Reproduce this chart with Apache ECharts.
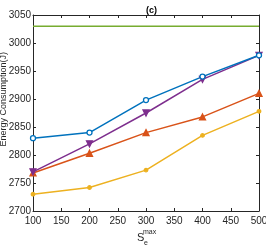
<!DOCTYPE html>
<html><head><meta charset="utf-8">
<script src="https://cdn.jsdelivr.net/npm/echarts@6/dist/echarts.min.js"></script>
<style>html,body{margin:0;padding:0;background:#fff}#c{width:266px;height:249px}</style>
</head><body><div id="c"></div>
<script>
var xValues = [100, 200, 300, 400, 500];
var blueVals = [2830, 2840, 2898, 2940, 2978];
var orangeVals = [2768, 2803, 2840, 2868, 2910];
var yellowVals = [2730, 2742, 2773, 2835, 2878];
var purpleVals = [2770, 2820, 2875, 2935, 2978];
var greenVals = [3030, 3030, 3030, 3030, 3030];
var yName = 'Energy Consumption(J)';

function pairs(v){ return xValues.map(function(x,i){return [x, v[i]];}); }
var font = '"Liberation Sans Narrow", "Liberation Sans", Arial, sans-serif';
var chart = echarts.init(document.getElementById('c'), null, {renderer:'canvas'});
function axisCommon(){
  return {
    axisLine:{show:true,lineStyle:{color:'#262626',width:1}},
    axisTick:{show:true,inside:true,length:3,lineStyle:{color:'#262626'}},
    splitLine:{show:false}
  };
}
var xa = Object.assign(axisCommon(), {type:'value', min:100, max:500, interval:50,
  axisLabel:{color:'#262626', fontSize:10, fontFamily:font, margin:5, formatter:function(v){return String(v);}}});
var xa2 = Object.assign(axisCommon(), {type:'value', min:100, max:500, interval:50, position:'top', axisLabel:{show:false}});
var ya = Object.assign(axisCommon(), {type:'value', min:2700, max:3050, interval:50,
  axisLabel:{color:'#262626', fontSize:10, fontFamily:font, margin:2, formatter:function(v){return String(v);}}});
var ya2 = Object.assign(axisCommon(), {type:'value', min:2700, max:3050, interval:50, position:'right', axisLabel:{show:false}});
function s(name, data, color, symbol, size, filled){
  return {name:name, type:'line', xAxisIndex:0, yAxisIndex:0, data:pairs(data),
    symbol:symbol, symbolSize:size, showSymbol: symbol!=='none',
    lineStyle:{color:color, width:1.5}, itemStyle:{color: filled?color:'#fff', borderColor:color, borderWidth:1.3},
    animation:false};
}
chart.setOption({
  animation:false,
  title:{text:'(c)', left:141, top:1, textStyle:{fontSize:9, fontWeight:'bold', color:'#000', fontFamily:font}},
  grid:{left:33, right:7, top:15, bottom:38, containLabel:false, outerBoundsMode:'none'},
  xAxis:[xa, xa2],
  yAxis:[ya, ya2],
  series:[
    s('green', greenVals, '#77AC30', 'none', 0, true),
    s('yellow', yellowVals, '#EDB120', 'circle', 3.5, true),
    s('orange', orangeVals, '#D95319', 'triangle', 6, true),
    s('purple', purpleVals, '#7E2F8E', 'path://M0,0 L10,0 L5,10 Z', 6, true),
    s('blue', blueVals, '#0072BD', 'circle', 5, false)
  ],
  graphic:[
    {type:'text', left:-1, top:52, rotation:Math.PI/2, style:{text:yName, fontSize:9, fontFamily:'"Liberation Sans", Arial, sans-serif', fill:'#262626'}},
    {type:'text', left:137, top:232, style:{text:'S', fontSize:11, fontFamily:font, fill:'#262626'}},
    {type:'text', left:143, top:229, style:{text:'max', fontSize:7, fontFamily:font, fill:'#262626'}},
    {type:'text', left:144, top:240, style:{text:'e', fontSize:7, fontFamily:font, fill:'#262626'}}
  ]
});
</script></body></html>
